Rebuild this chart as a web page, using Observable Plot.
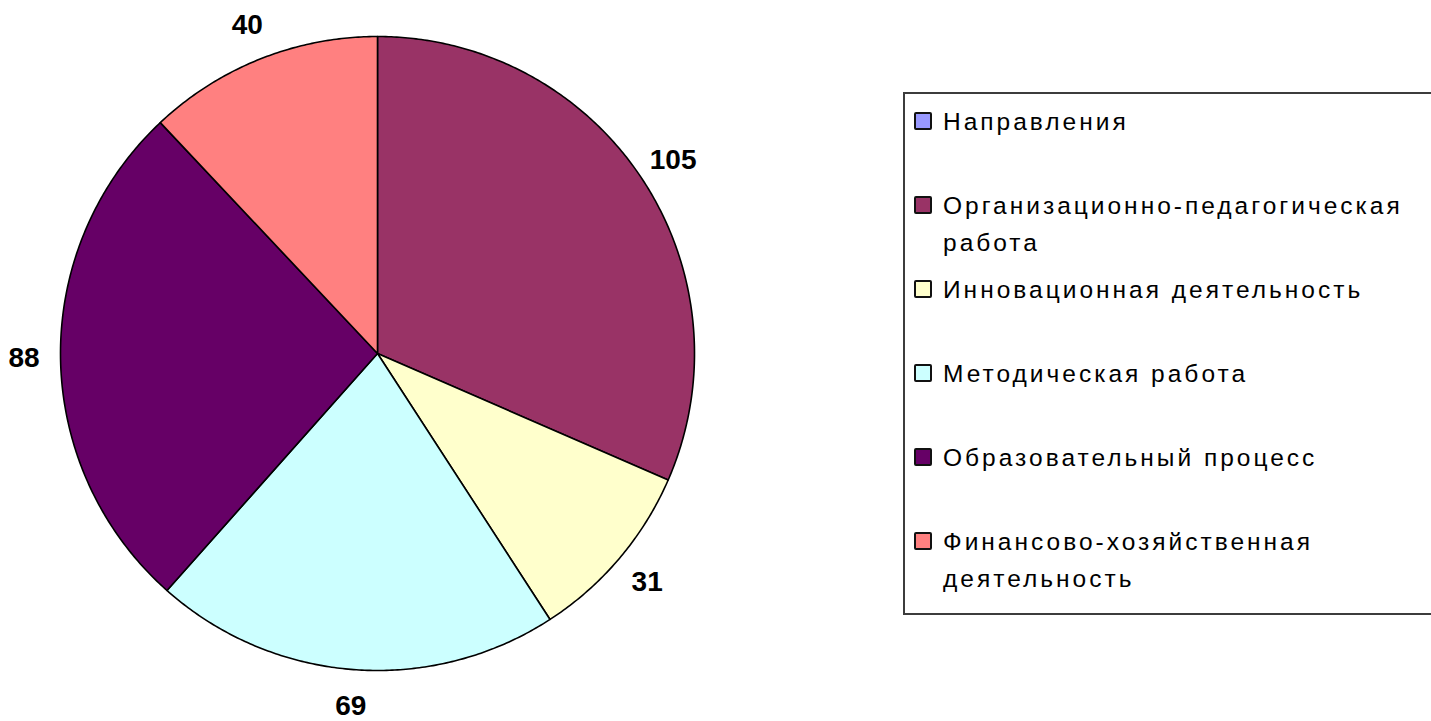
<!DOCTYPE html>
<html>
<head>
<meta charset="utf-8">
<script src="https://cdn.jsdelivr.net/npm/d3@7"></script>
<script src="https://cdn.jsdelivr.net/npm/@observablehq/plot@0.6"></script>
<style>
  html, body { margin: 0; padding: 0; background: #ffffff; }
  #wrap { position: relative; width: 1431px; height: 721px; overflow: hidden; font-family: "Liberation Sans", Arial, sans-serif; }
  #legend { position: absolute; left: 903px; top: 92px; width: 540px; height: 523px; border: 2px solid #3c3c3c; box-sizing: border-box; background: #fff; }
  .entry { position: absolute; left: 0; height: 84px; }
  .sw { position: absolute; left: 9px; width: 18px; height: 18px; box-sizing: border-box; border: 2px solid #111; border-radius: 2px; }
  .lbl { position: absolute; left: 38px; white-space: pre; font-size: 24.5px; letter-spacing: 3px; line-height: 37px; color: #000; }
</style>
</head>
<body>
<div id="wrap"></div>
<script>
// ---- data ----
const categories = [
  "Организационно-педагогическая работа",
  "Инновационная деятельность",
  "Методическая работа",
  "Образовательный процесс",
  "Финансово-хозяйственная деятельность"
];
const values = [105, 31, 69, 88, 40];
const legendLabels = [
  "Направления",
  "Организационно-педагогическая\nработа",
  "Инновационная деятельность",
  "Методическая работа",
  "Образовательный процесс",
  "Финансово-хозяйственная\nдеятельность"
];
const legendKeys = ["Направления", ...categories];
const colors = ["#9999ff", "#993366", "#ffffcc", "#ccffff", "#660066", "#ff8080"];

// ---- geometry from data ----
const W = 1431, H = 721;
const cx = 377, cy = 353, R = 317;
const total = d3.sum(values);
let acc = 0;
const slices = values.map((v, i) => {
  const a0 = acc / total * 2 * Math.PI;
  acc += v;
  const a1 = acc / total * 2 * Math.PI;
  return {name: categories[i], value: v, a0, a1};
});
const pts = [];
for (const s of slices) {
  pts.push({name: s.name, x: 0, y: 0});
  const n = Math.max(2, Math.ceil((s.a1 - s.a0) / (Math.PI / 360)));
  for (let k = 0; k <= n; k++) {
    const a = s.a0 + (s.a1 - s.a0) * k / n;
    pts.push({name: s.name, x: Math.sin(a), y: Math.cos(a)});
  }
  pts.push({name: s.name, x: 0, y: 0});
}
const labelR = 1.115;
const labels = slices.map(s => {
  const m = (s.a0 + s.a1) / 2;
  return {value: s.value, x: labelR * Math.sin(m), y: labelR * Math.cos(m)};
});

const chart = Plot.plot({
  width: W,
  height: H,
  marginLeft: cx - R,
  marginRight: W - (cx + R),
  marginTop: cy - R,
  marginBottom: H - (cy + R),
  x: {domain: [-1, 1], axis: null},
  y: {domain: [-1, 1], axis: null},
  color: {domain: legendKeys, range: colors},
  style: {background: "#fff", overflow: "visible"},
  marks: [
    Plot.line(pts, {x: "x", y: "y", z: "name", fill: "name", stroke: "#000", strokeWidth: 1.6, strokeLinejoin: "round", curve: "linear-closed"}),
    Plot.text(labels, {x: "x", y: "y", text: d => String(d.value), fontSize: 28, fontWeight: "bold", fill: "#000", fontFamily: "Liberation Sans, Arial, sans-serif"})
  ]
});

const wrap = document.getElementById("wrap");
wrap.appendChild(chart);

// legend (HTML, placed on the right)
const legend = document.createElement("div");
legend.id = "legend";
legendKeys.forEach((k, i) => {
  const e = document.createElement("div");
  e.className = "entry";
  e.style.top = (10 + i * 84) + "px";
  const sw = document.createElement("div");
  sw.className = "sw";
  sw.style.top = "8px";
  sw.style.background = colors[i];
  const t = document.createElement("div");
  t.className = "lbl";
  t.style.top = "-1px";
  t.textContent = legendLabels[i];
  e.appendChild(sw);
  e.appendChild(t);
  legend.appendChild(e);
});
wrap.appendChild(legend);
</script>
</body>
</html>
